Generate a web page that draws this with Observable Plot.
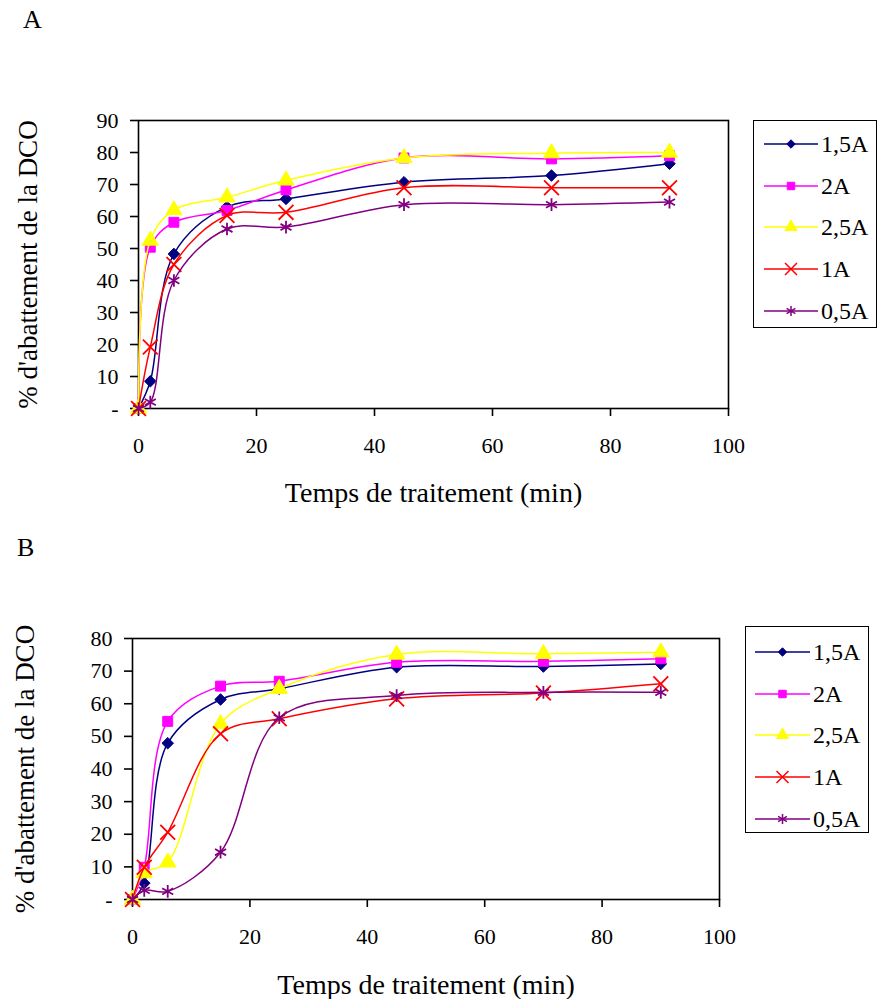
<!DOCTYPE html>
<html><head><meta charset="utf-8">
<script src="https://cdn.jsdelivr.net/npm/d3@7"></script>
<script src="https://cdn.jsdelivr.net/npm/@observablehq/plot@0.6"></script>
<style>
body{margin:0;background:#fff;}
#root{position:relative;width:877px;height:999px;background:#fff;font-family:"Liberation Serif",serif;color:#000;overflow:hidden}
.panel{position:absolute;left:0}
.lbl{position:absolute;font-size:26px;line-height:1}
.legend{position:absolute;border:1.5px solid #000;box-sizing:border-box;background:#fff}
.legend .row{position:absolute;left:0;display:flex;align-items:center;font-size:24px;line-height:1}
.legend svg{display:block}
</style></head><body><div id="root"></div>
<script>
// ---- data ----
const times = [0, 2, 6, 15, 25, 45, 70, 90];
const seriesNames = ["1,5A", "2A", "2,5A", "1A", "0,5A"];
const xTicks = [0, 20, 40, 60, 80, 100];
const yTicksA = [0, 10, 20, 30, 40, 50, 60, 70, 80, 90];
const yTicksB = [0, 10, 20, 30, 40, 50, 60, 70, 80];
const xTitle = "Temps de traitement (min)";
const yTitle = "% d'abattement de la DCO";
const panelLabels = ["A", "B"];

// Panel A
const a_1_5A = [0, 8.5, 48.3, 63, 65.5, 70.7, 72.8, 76.5];
const a_2A   = [0, 50.4, 58.2, 61.9, 68.3, 78.3, 78, 79];
const a_2_5A = [0, 52.5, 62, 66, 71.3, 78.3, 79.8, 80];
const a_1A   = [0, 19.2, 45, 60.3, 61.3, 69, 69, 69];
const a_0_5A = [0, 2, 40, 56.1, 56.7, 63.7, 63.7, 64.5];
// Panel B
const b_1_5A = [0, 5, 47.9, 61.3, 64.6, 71.2, 71.4, 72.2];
const b_2A   = [0, 9.9, 54.6, 65.4, 66.9, 72.7, 73, 73.8];
const b_2_5A = [0, 8.1, 11.4, 53.8, 64.6, 75.1, 75.3, 75.8];
const b_1A   = [0, 9.9, 20.6, 50.8, 55.4, 61.5, 63.3, 66.1];
const b_0_5A = [0, 2.8, 2.5, 14.5, 55.7, 62.5, 63.5, 63.5];

// ---- styles ----
const colors = ["#000080", "#FF00FF", "#FFFF00", "#FF0000", "#800080"];
const symbols = ["diamond2", "square", "triangle", "times", "asterisk"];
const d3symbols = [d3.symbolDiamond2, d3.symbolSquare, d3.symbolTriangle, d3.symbolTimes, d3.symbolAsterisk];
const filled = [true, true, true, false, false];
const dotR = [5.2, 5.6, 6, 6.8, 6];
const legR = [3.8, 4.2, 4.5, 5.5, 4.8];

const root = document.getElementById("root");

function makePanel(cfg) {
  const data = seriesNames.flatMap((s, i) => times.map((t, j) => ({series: s, t, v: cfg.values[i][j]})));
  const seriesMarks = seriesNames.flatMap((s, i) => {
    const d = data.filter(e => e.series === s);
    return [
      Plot.line(d, {x: "t", y: "v", stroke: colors[i], strokeWidth: 1.5, curve: "catmull-rom"}),
      Plot.dot(d, {x: "t", y: "v", symbol: symbols[i], r: dotR[i],
        fill: filled[i] ? colors[i] : "none", stroke: colors[i], strokeWidth: filled[i] ? 1 : 1.8})
    ];
  });
  const svg = Plot.plot({
    width: 740, height: cfg.height,
    marginLeft: cfg.ml, marginRight: cfg.mr, marginTop: cfg.mt, marginBottom: cfg.mb,
    style: {fontFamily: '"Liberation Serif", serif', fontSize: "22px", color: "#000", background: "transparent", overflow: "visible"},
    x: {domain: [0, 100], label: null},
    y: {domain: [0, cfg.ymax], label: null},
    marks: [
      Plot.frame({stroke: "#000", strokeWidth: 1.6}),
      Plot.axisX({ticks: xTicks, tickSize: 8, tickPadding: 21, label: null, strokeWidth: 1.6, tickFormat: d => String(d)}),
      Plot.axisY({ticks: cfg.yTicks, tickSize: 8, tickPadding: 12, label: null, strokeWidth: 1.6, tickFormat: d => d === 0 ? "-" : String(d)}),
      ...seriesMarks,
      Plot.text([xTitle], {text: d => d, frameAnchor: "bottom", lineAnchor: "middle", textAnchor: "middle", dy: cfg.xtdy, fontSize: 28}),
      Plot.text([yTitle], {text: d => d, frameAnchor: "left", lineAnchor: "middle", textAnchor: "middle", dx: cfg.ytdx, rotate: -90, fontSize: 27})
    ]
  });
  svg.classList.add("panel");
  svg.style.top = cfg.top + "px";
  root.appendChild(svg);

  const lab = document.createElement("div");
  lab.className = "lbl";
  lab.textContent = cfg.label;
  lab.style.left = cfg.labelPos[0] + "px";
  lab.style.top = cfg.labelPos[1] + "px";
  root.appendChild(lab);

  const lg = document.createElement("div");
  lg.className = "legend";
  Object.assign(lg.style, {left: cfg.leg.x + "px", top: cfg.leg.y + "px", width: cfg.leg.w + "px", height: cfg.leg.h + "px"});
  seriesNames.forEach((s, i) => {
    const row = document.createElement("div");
    row.className = "row";
    const cy = cfg.leg.first + i * cfg.leg.step;
    row.style.top = (cy - 12) + "px";
    row.style.height = "24px";
    const sw = d3.create("svg").attr("width", cfg.leg.lineEnd + 3).attr("height", 24);
    sw.append("line").attr("x1", cfg.leg.lineStart).attr("x2", cfg.leg.lineEnd).attr("y1", 12).attr("y2", 12)
      .attr("stroke", colors[i]).attr("stroke-width", 1.6);
    sw.append("path").attr("d", d3.symbol(d3symbols[i], Math.PI * legR[i] * legR[i])())
      .attr("transform", `translate(${(cfg.leg.lineStart + cfg.leg.lineEnd) / 2},12)`)
      .attr("fill", filled[i] ? colors[i] : "none").attr("stroke", colors[i]).attr("stroke-width", filled[i] ? 1 : 1.5);
    row.appendChild(sw.node());
    const tx = document.createElement("span");
    tx.textContent = s;
    row.appendChild(tx);
    lg.appendChild(row);
  });
  root.appendChild(lg);
}

makePanel({
  label: panelLabels[0], labelPos: [23, 7],
  values: [a_1_5A, a_2A, a_2_5A, a_1A, a_0_5A],
  top: 0, height: 520, ml: 138, mr: 12, mt: 120, mb: 112,
  ymax: 90, yTicks: yTicksA, xtdy: 85, ytdx: -110,
  leg: {x: 753, y: 120, w: 124, h: 208, first: 23, step: 41.7, lineStart: 10, lineEnd: 64}
});
makePanel({
  label: panelLabels[1], labelPos: [17, 535],
  values: [b_1_5A, b_2A, b_2_5A, b_1A, b_0_5A],
  top: 520, height: 479, ml: 132, mr: 21, mt: 118, mb: 100,
  ymax: 80, yTicks: yTicksB, xtdy: 86, ytdx: -107,
  leg: {x: 745, y: 626, w: 124, h: 207, first: 25, step: 41.7, lineStart: 9, lineEnd: 64}
});
</script></body></html>
